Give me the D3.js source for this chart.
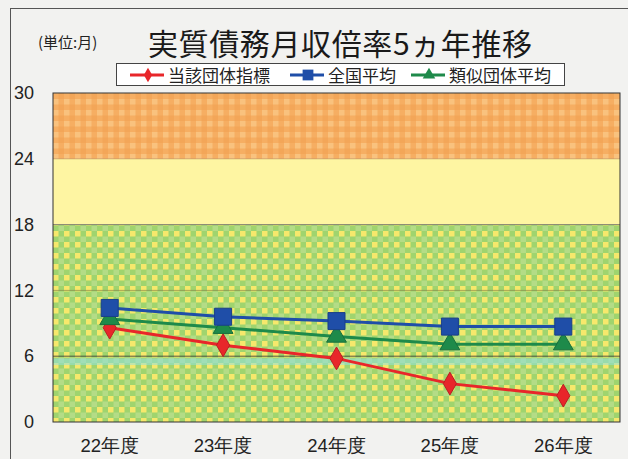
<!DOCTYPE html>
<html>
<head>
<meta charset="utf-8">
<script src="https://cdn.jsdelivr.net/npm/d3@7"></script>
<style>
  body { margin: 0; background: #f2f2f0; }
  svg { display: block; font-family: "Noto Sans CJK JP", "Noto Sans", sans-serif; }
</style>
</head>
<body>
<svg id="chart" width="628" height="459"></svg>
<script>
// chart data
const years = ['22年度', '23年度', '24年度', '25年度', '26年度'];
const ownValues = [8.6, 7.0, 5.8, 3.5, 2.4];      // 当該団体指標
const nationalAvg = [10.4, 9.6, 9.2, 8.7, 8.7];   // 全国平均
const similarAvg = [9.4, 8.6, 7.8, 7.1, 7.1];     // 類似団体平均
const yTicks = [0, 6, 12, 18, 24, 30];

const svg = d3.select('#chart');
const margin = { left: 53, right: 8, top: 93, bottom: 37 };
const W = 628, H = 459;

// background paper + outer frame
svg.append('rect').attr('width', W).attr('height', H).attr('fill', '#f2f2f0');
svg.append('rect').attr('x', 10.5).attr('y', 8.5).attr('width', 640).attr('height', 480)
    .attr('fill', 'none').attr('stroke', '#555').attr('stroke-width', 1);

// patterns
const defs = svg.append('defs');
const green = defs.append('pattern').attr('id', 'greenCheck')
    .attr('patternUnits', 'userSpaceOnUse').attr('width', 11).attr('height', 11)
    .attr('x', 53).attr('y', 0);
green.append('rect').attr('width', 11).attr('height', 11).attr('fill', '#9fd46e');
green.append('rect').attr('width', 5.5).attr('height', 5.5).attr('fill', '#f6e86c');
green.append('rect').attr('x', 5.5).attr('y', 5.5).attr('width', 5.5).attr('height', 5.5).attr('fill', '#b4dc86');

const orange = defs.append('pattern').attr('id', 'orangeCheck')
    .attr('patternUnits', 'userSpaceOnUse').attr('width', 11).attr('height', 11)
    .attr('x', 53).attr('y', 0);
orange.append('rect').attr('width', 11).attr('height', 11).attr('fill', '#f6ae62');
orange.append('rect').attr('width', 5.5).attr('height', 5.5).attr('fill', '#f9c27e');
orange.append('rect').attr('x', 5.5).attr('y', 5.5).attr('width', 5.5).attr('height', 5.5).attr('fill', '#f3a658');

const x = d3.scaleBand().domain(years).range([margin.left, W - margin.right]);
const y = d3.scaleLinear().domain([0, 30]).range([H - margin.bottom, margin.top]);

// value bands
const bands = [
    { from: 0, to: 18, fill: 'url(#greenCheck)' },
    { from: 18, to: 24, fill: '#fef5a2' },
    { from: 24, to: 30, fill: 'url(#orangeCheck)' }
];
svg.selectAll('rect.band').data(bands).join('rect')
    .attr('class', 'band')
    .attr('x', margin.left).attr('width', W - margin.right - margin.left)
    .attr('y', d => y(d.to)).attr('height', d => y(d.from) - y(d.to))
    .attr('fill', d => d.fill);

// faint cyan stripe under 6
svg.append('rect').attr('x', margin.left).attr('width', W - margin.right - margin.left)
    .attr('y', y(5.8)).attr('height', y(5.2) - y(5.8))
    .attr('fill', '#8fe0e0').attr('opacity', 0.55);

// gridlines
const grid = [
    { v: 6, color: '#333', w: 0.8 },
    { v: 12, color: '#8a8a4a', w: 0.7 },
    { v: 18, color: '#555', w: 0.7 },
    { v: 24, color: '#b07a40', w: 0.5 }
];
svg.selectAll('line.grid').data(grid).join('line')
    .attr('class', 'grid')
    .attr('x1', margin.left).attr('x2', W - margin.right)
    .attr('y1', d => y(d.v)).attr('y2', d => y(d.v))
    .attr('stroke', d => d.color).attr('stroke-width', d => d.w);

// plot frame
svg.append('rect').attr('x', margin.left).attr('y', margin.top)
    .attr('width', W - margin.right - margin.left).attr('height', H - margin.bottom - margin.top)
    .attr('fill', 'none').attr('stroke', '#333').attr('stroke-width', 1);

// y axis
const yAxis = svg.append('g').attr('transform', `translate(${margin.left - 16},0)`)
    .call(d3.axisLeft(y).tickValues(yTicks).tickSize(0).tickFormat(d3.format('d')));
yAxis.select('.domain').remove();
yAxis.selectAll('text').attr('font-size', 18).attr('fill', '#222')
    .attr('font-family', '"Liberation Sans", Arial, sans-serif');

// x axis
const xAxis = svg.append('g').attr('transform', `translate(0,${H - margin.bottom + 11})`)
    .call(d3.axisBottom(x).tickSize(0));
xAxis.select('.domain').remove();
xAxis.selectAll('text').attr('font-size', 18.5).attr('fill', '#222').attr('dy', '0.85em');

// series
const series = [
    { name: '当該団体指標', values: ownValues, color: '#e8262a', shape: d3.symbolDiamond, size: 150 },
    { name: '全国平均', values: nationalAvg, color: '#1f4ea8', shape: d3.symbolSquare, size: 290 },
    { name: '類似団体平均', values: similarAvg, color: '#1e8a4a', shape: d3.symbolTriangle, size: 170 }
];

const line = d3.line().x((d, i) => x(years[i]) + x.bandwidth() / 2).y(d => y(d));

// red first, then green, blue on top
const drawOrder = [series[0], series[2], series[1]];
drawOrder.forEach(s => {
    svg.append('path').datum(s.values).attr('d', line)
        .attr('fill', 'none').attr('stroke', s.color).attr('stroke-width', 3);
});
drawOrder.forEach(s => {
    svg.selectAll(null).data(s.values).join('path')
        .attr('transform', (d, i) => `translate(${x(years[i]) + x.bandwidth() / 2},${y(d)})`)
        .attr('d', d3.symbol(s.shape, s.size))
        .attr('fill', s.color).attr('stroke', d3.color(s.color).darker(0.6)).attr('stroke-width', 1);
});

// title and unit
svg.append('text').attr('x', 38).attr('y', 48).attr('font-size', 15).attr('fill', '#222')
    .text('(単位:月)');
svg.append('text').attr('x', 148).attr('y', 55).attr('font-size', 30).attr('fill', '#1a1a1a')
    .attr('textLength', 384).text('実質債務月収倍率5ヵ年推移');

// legend
svg.append('rect').attr('x', 116.5).attr('y', 63.5).attr('width', 448).attr('height', 22)
    .attr('fill', '#fff').attr('stroke', '#444').attr('stroke-width', 1);
const legendX = [130, 290, 411];
const legend = svg.selectAll('g.legend').data(series).join('g')
    .attr('class', 'legend')
    .attr('transform', (d, i) => `translate(${legendX[i]},75)`);
legend.append('line').attr('x1', 0).attr('x2', 34)
    .attr('stroke', d => d.color).attr('stroke-width', 3);
legend.append('path').attr('transform', 'translate(18,0)')
    .attr('d', d => d3.symbol(d.shape, d.size * 0.4)())
    .attr('fill', d => d.color);
legend.append('text').attr('x', 38).attr('y', 7).attr('font-size', 17).attr('fill', '#222')
    .text(d => d.name);
</script>
</body>
</html>
